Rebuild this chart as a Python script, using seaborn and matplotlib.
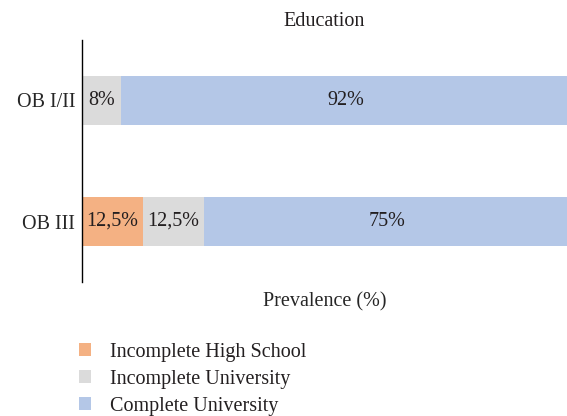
import pandas as pd
import matplotlib
matplotlib.use("Agg")
import matplotlib.pyplot as plt
import seaborn as sns
from matplotlib.patches import Patch

# data
groups = ["OB I/II", "OB III"]
categories = ["Incomplete High School", "Incomplete University", "Complete University"]
incomplete_hs = [0, 12.5]
incomplete_uni = [8, 12.5]
complete_uni = [92, 75]
colors = ["#F4B183", "#DBDBDB", "#B4C7E7"]

sns.set_style("white")
plt.rcParams["font.family"] = ["Liberation Serif", "DejaVu Serif"]
plt.rcParams["font.size"] = 14.5
plt.rcParams["text.color"] = "#231f20"

df = pd.DataFrame({
    "group": groups,
    categories[0]: incomplete_hs,
    categories[1]: incomplete_uni,
    categories[2]: complete_uni,
})
# cumulative ends of each segment
cum = df[categories].cumsum(axis=1)
cum["group"] = df["group"]

fig = plt.figure(figsize=(5.67, 4.16), dpi=100)
ax = fig.add_axes([0.1446, 0.322, 0.8554, 0.582])

# draw from the longest stack down so each segment shows
for cat, col in reversed(list(zip(categories, colors))):
    sns.barplot(data=cum, x=cat, y="group", orient="h", color=col,
                width=0.41, saturation=1, linewidth=0, ax=ax)

# segment labels
for i, g in enumerate(groups):
    left = 0
    for cat in categories:
        v = df.loc[i, cat]
        if v > 0:
            txt = f"{v:g}%".replace(".", ",")
            ax.text(left + v / 2, i, txt, ha="center", va="center", fontsize=14.5)
        left += v

ax.set_xlim(0, 99.4)
ax.set_ylim(1.5, -0.5)
ax.set_xticks([])
ax.set_ylabel("")
ax.set_xlabel("Prevalence (%)", fontsize=14.5, labelpad=7)
ax.set_title("Education", fontsize=14.5, pad=10)
ax.tick_params(axis="y", length=0, labelsize=14.5, pad=5)
for s in ["top", "right", "bottom"]:
    ax.spines[s].set_visible(False)
ax.spines["left"].set_color("black")
ax.spines["left"].set_linewidth(1.0)

handles = [Patch(facecolor=c, edgecolor="none") for c in colors]
fig.legend(handles, categories, loc="upper left", bbox_to_anchor=(0.122, 0.2),
           frameon=False, fontsize=14.5, handlelength=0.6, handleheight=0.6,
           handletextpad=0.95, labelspacing=0.4, borderpad=0)

fig.savefig("out.png", dpi=100)
